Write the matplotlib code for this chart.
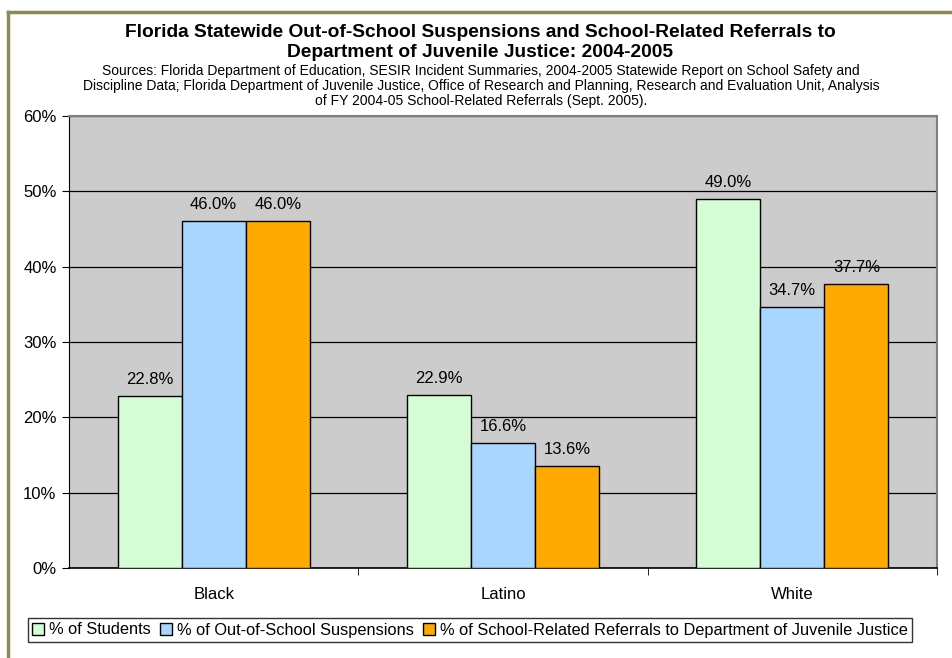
import matplotlib
matplotlib.use("Agg")
import matplotlib.pyplot as plt
import numpy as np

plt.rcParams['font.family'] = ['Liberation Sans', 'DejaVu Sans']

groups = ["Black", "Latino", "White"]
series_names = ["% of Students",
                "% of Out-of-School Suspensions",
                "% of School-Related Referrals to Department of Juvenile Justice"]
students = [22.8, 22.9, 49.0]
suspensions = [46.0, 16.6, 34.7]
referrals = [46.0, 13.6, 37.7]
yticks = [0, 10, 20, 30, 40, 50, 60]

colors = ["#D5FDD5", "#A8D6FF", "#FFAA00"]

fig = plt.figure(figsize=(9.52, 6.58), dpi=100)
ax = fig.add_axes([69/952, 1 - 568/658, 868/952, 452/658])
ax.set_facecolor("#CCCCCC")

x = np.arange(len(groups))
w = 0.2215
for i, (vals, name) in enumerate(zip([students, suspensions, referrals], series_names)):
    pos = x + (i - 1) * w
    ax.bar(pos, vals, w, color=colors[i], edgecolor="black", linewidth=1,
           label=name, zorder=3)
    for px, v in zip(pos, vals):
        ax.text(px, v + 1.2, "%.1f%%" % v, ha="center", va="bottom",
                fontsize=12, zorder=4)

ax.set_xlim(-0.5, 2.5)
ax.set_ylim(0, 60)
ax.set_yticks(yticks)
ax.set_yticklabels(["%d%%" % t for t in yticks], fontsize=12)
ax.yaxis.grid(True, color="black", linewidth=0.9, zorder=0)
ax.set_axisbelow(True)

ax.set_xticks(x)
ax.set_xticklabels(groups, fontsize=12)
ax.tick_params(axis="x", length=0, pad=14)
ax.set_xticks([0.5, 1.5, 2.5], minor=True)
ax.tick_params(axis="x", which="minor", length=5, color="black")
ax.tick_params(axis="y", length=5, color="black", pad=4)

for s in ["top", "right"]:
    ax.spines[s].set_color("#808080")
    ax.spines[s].set_linewidth(1.5)
ax.spines["left"].set_color("black")
ax.spines["bottom"].set_color("black")
ax.spines["bottom"].set_linewidth(1.2)

fig.text(480/952, 1 - 42.5/658, "Florida Statewide Out-of-School Suspensions and School-Related Referrals to\nDepartment of Juvenile Justice: 2004-2005",
         ha="center", va="center", fontsize=13.8, fontweight="bold", linespacing=1.3)
fig.text(481/952, 1 - 86/658, "Sources: Florida Department of Education, SESIR Incident Summaries, 2004-2005 Statewide Report on School Safety and\n"
         "Discipline Data; Florida Department of Juvenile Justice, Office of Research and Planning, Research and Evaluation Unit, Analysis\n"
         "of FY 2004-05 School-Related Referrals (Sept. 2005).",
         ha="center", va="center", fontsize=10, linespacing=1.12)

leg = fig.legend(loc="center", bbox_to_anchor=(470/952, 1 - 630/658), ncol=3,
                 fontsize=11.8, frameon=True, fancybox=False, edgecolor="black",
                 handlelength=0.7, handleheight=0.7, handletextpad=0.3,
                 columnspacing=0.6, borderpad=0.25)
leg.get_frame().set_linewidth(1)

# outer frame (olive border on top and left)
fig.add_artist(plt.Line2D([8/952, 8/952], [0, 1 - 12/658], transform=fig.transFigure,
                          color="#8A8A5C", linewidth=2.5))
fig.add_artist(plt.Line2D([8/952, 1], [1 - 12/658, 1 - 12/658], transform=fig.transFigure,
                          color="#8A8A5C", linewidth=2.5))

fig.savefig("out.png", dpi=100)
